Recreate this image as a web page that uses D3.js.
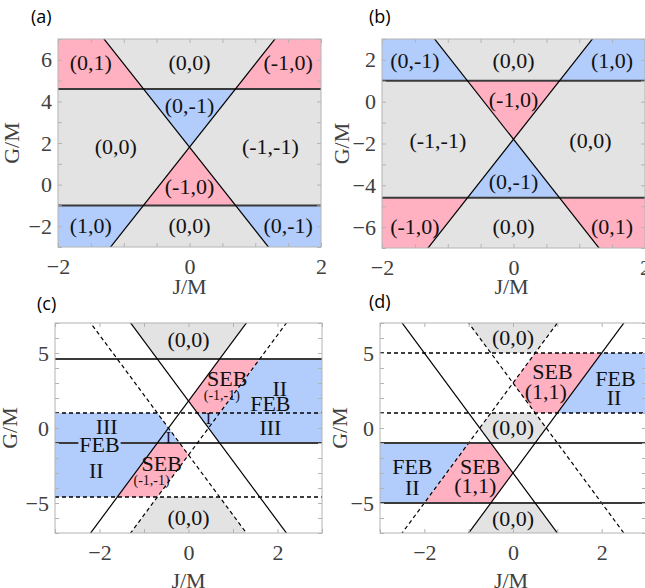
<!DOCTYPE html>
<html>
<head>
<meta charset="utf-8">
<script src="https://cdn.jsdelivr.net/npm/d3@7"></script>
<style>
  body { margin: 0; background: #fff; }
  svg { display: block; }
</style>
</head>
<body>
<div id="chart"></div>
<script>
// ---- data ----
const panelLetters = ['(a)', '(b)', '(c)', '(d)'];

const jDomainAB = [-2, 2];
const jDomainCD = [-3, 3];
const gDomainA = [-3, 7];
const gDomainB = [-7, 3];
const gDomainCD = [-7, 7];

const jTicksAB = [-2, 0, 2];
const jTicksCD = [-2, 0, 2];
const gTicksA = [-2, 0, 2, 4, 6];
const gTicksB = [-6, -4, -2, 0, 2];
const gTicksCD = [-5, 0, 5];

// phase boundaries G = g0 + k*J
const linesA = [
  {g0: 4.6, k: 0, dash: false}, {g0: -1, k: 0, dash: false},
  {g0: 1.8, k: 4, dash: false}, {g0: 1.8, k: -4, dash: false}
];
const linesB = [
  {g0: 1, k: 0, dash: false}, {g0: -4.6, k: 0, dash: false},
  {g0: -1.8, k: 4, dash: false}, {g0: -1.8, k: -4, dash: false}
];
const linesC = [
  {g0: 4.6, k: 0, dash: false}, {g0: -1, k: 0, dash: false},
  {g0: 1.8, k: 4, dash: false}, {g0: 1.8, k: -4, dash: false},
  {g0: 1, k: 0, dash: true}, {g0: -4.6, k: 0, dash: true},
  {g0: -1.8, k: 4, dash: true}, {g0: -1.8, k: -4, dash: true}
];
const linesD = [
  {g0: 5, k: 0, dash: true}, {g0: 1, k: 0, dash: true},
  {g0: 3, k: 4, dash: true}, {g0: 3, k: -4, dash: true},
  {g0: -1, k: 0, dash: false}, {g0: -5, k: 0, dash: false},
  {g0: -3, k: 4, dash: false}, {g0: -3, k: -4, dash: false}
];

// shaded regions, vertices as [J, G]
const regionsA = [
  {c: 'pink', p: [[-2, 7], [-1.3, 7], [-0.7, 4.6], [-2, 4.6]]},
  {c: 'pink', p: [[1.3, 7], [2, 7], [2, 4.6], [0.7, 4.6]]},
  {c: 'blue', p: [[-0.7, 4.6], [0.7, 4.6], [0, 1.8]]},
  {c: 'pink', p: [[0, 1.8], [0.7, -1], [-0.7, -1]]},
  {c: 'blue', p: [[-2, -1], [-0.7, -1], [-1.2, -3], [-2, -3]]},
  {c: 'blue', p: [[0.7, -1], [2, -1], [2, -3], [1.2, -3]]}
];
const regionsB = [
  {c: 'blue', p: [[-2, 3], [-1.2, 3], [-0.7, 1], [-2, 1]]},
  {c: 'blue', p: [[1.2, 3], [2, 3], [2, 1], [0.7, 1]]},
  {c: 'pink', p: [[-0.7, 1], [0.7, 1], [0, -1.8]]},
  {c: 'blue', p: [[0, -1.8], [0.7, -4.6], [-0.7, -4.6]]},
  {c: 'pink', p: [[-2, -4.6], [-0.7, -4.6], [-1.3, -7], [-2, -7]]},
  {c: 'pink', p: [[0.7, -4.6], [2, -4.6], [2, -7], [1.3, -7]]}
];
const regionsC = [
  {c: 'gray', p: [[-1.3, 7], [1.3, 7], [0.7, 4.6], [-0.7, 4.6]]},
  {c: 'gray', p: [[-0.7, -4.6], [0.7, -4.6], [1.3, -7], [-1.3, -7]]},
  {c: 'pink', p: [[0, 1.8], [0.7, 4.6], [1.6, 4.6], [0.7, 1], [0.2, 1]]},
  {c: 'blue', p: [[1.6, 4.6], [3, 4.6], [3, -1], [0.7, -1], [0.2, 1], [0.7, 1]]},
  {c: 'pink', p: [[0, -1.8], [-0.7, -4.6], [-1.6, -4.6], [-0.7, -1], [-0.2, -1]]},
  {c: 'blue', p: [[-1.6, -4.6], [-3, -4.6], [-3, 1], [-0.7, 1], [-0.2, -1], [-0.7, -1]]}
];
const regionsD = [
  {c: 'gray', p: [[-1, 7], [1, 7], [0.5, 5], [-0.5, 5]]},
  {c: 'gray', p: [[-0.5, 1], [0.5, 1], [0.75, 0], [0.5, -1], [-0.5, -1], [-0.75, 0]]},
  {c: 'gray', p: [[-0.5, -5], [0.5, -5], [1, -7], [-1, -7]]},
  {c: 'pink', p: [[0.5, 5], [2, 5], [1, 1], [0.5, 1], [0, 3]]},
  {c: 'blue', p: [[2, 5], [3, 5], [3, 1], [1, 1]]},
  {c: 'pink', p: [[-1, -1], [-0.5, -1], [0, -3], [-0.5, -5], [-2, -5]]},
  {c: 'blue', p: [[-3, -1], [-1, -1], [-2, -5], [-3, -5]]}
];

// region labels
const labelsA = [
  {t: '(0,1)', j: -1.5, g: 5.85}, {t: '(0,0)', j: 0, g: 5.85}, {t: '(-1,0)', j: 1.5, g: 5.85},
  {t: '(0,-1)', j: 0, g: 3.8},
  {t: '(0,0)', j: -1.12, g: 1.8}, {t: '(-1,-1)', j: 1.23, g: 1.8},
  {t: '(-1,0)', j: 0, g: -0.1},
  {t: '(1,0)', j: -1.5, g: -2}, {t: '(0,0)', j: 0, g: -2}, {t: '(0,-1)', j: 1.5, g: -2}
];
const labelsB = [
  {t: '(0,-1)', j: -1.5, g: 1.95}, {t: '(0,0)', j: 0, g: 1.95}, {t: '(1,0)', j: 1.5, g: 1.95},
  {t: '(-1,0)', j: 0, g: 0.1},
  {t: '(-1,-1)', j: -1.15, g: -1.85}, {t: '(0,0)', j: 1.17, g: -1.85},
  {t: '(0,-1)', j: 0, g: -3.85},
  {t: '(-1,0)', j: -1.5, g: -6}, {t: '(0,0)', j: 0, g: -6}, {t: '(0,1)', j: 1.5, g: -6}
];
const labelsC = [
  {t: '(0,0)', j: 0, g: 5.9}, {t: '(0,0)', j: 0, g: -5.95},
  {t: 'SEB', j: 0.87, g: 3.3}, {t: '(-1,-1)', j: 0.75, g: 2.15, s: 14},
  {t: 'II', j: 2.05, g: 2.65}, {t: 'FEB', j: 1.84, g: 1.6}, {t: 'III', j: 1.84, g: 0.05},
  {t: 'I', j: 0.45, g: 0.62, s: 16},
  {t: 'III', j: -1.84, g: 0.1}, {t: 'FEB', j: -2.0, g: -1.1, bg: 'blue'}, {t: 'II', j: -2.07, g: -2.85},
  {t: 'I', j: -0.45, g: -0.68, s: 16},
  {t: 'SEB', j: -0.6, g: -2.4}, {t: '(-1,-1)', j: -0.83, g: -3.5, s: 14}
];
const labelsD = [
  {t: '(0,0)', j: 0, g: 6}, {t: 'SEB', j: 0.89, g: 3.75}, {t: '(1,1)', j: 0.74, g: 2.45},
  {t: 'FEB', j: 2.31, g: 3.3}, {t: 'II', j: 2.28, g: 2.0},
  {t: '(0,0)', j: 0, g: 0.05},
  {t: 'FEB', j: -2.27, g: -2.55}, {t: 'II', j: -2.27, g: -3.95},
  {t: 'SEB', j: -0.74, g: -2.55}, {t: '(1,1)', j: -0.85, g: -3.85},
  {t: '(0,0)', j: 0, g: -6.05}
];

// ---- layout / style ----
const colors = {pink: '#ffb1c1', blue: '#b2cdfc', gray: '#e3e3e3', white: '#ffffff'};
const serif = '"Liberation Serif", "Times New Roman", serif';
const labelSize = 22;
const tickSize = 22;

const panels = [
  {letter: panelLetters[0], box: {x0: 58, x1: 321, y0: 39, y1: 247}, jd: jDomainAB, gd: gDomainA,
   jt: jTicksAB, gt: gTicksA, jm: 0.5, gm: 1, bg: 'gray', lines: linesA, regions: regionsA, labels: labelsA,
   letterPos: [31, 23], xlab: 294, ylab: 19},
  {letter: panelLetters[1], box: {x0: 382, x1: 645, y0: 39, y1: 248}, jd: jDomainAB, gd: gDomainB,
   jt: jTicksAB, gt: gTicksB, jm: 0.5, gm: 1, bg: 'gray', lines: linesB, regions: regionsB, labels: labelsB,
   letterPos: [369, 23], xlab: 294, ylab: 349},
  {letter: panelLetters[2], box: {x0: 55, x1: 322, y0: 323, y1: 533}, jd: jDomainCD, gd: gDomainCD,
   jt: jTicksCD, gt: gTicksCD, jm: 1, gm: 1, bg: 'white', lines: linesC, regions: regionsC, labels: labelsC,
   letterPos: [37, 310], xlab: 588, ylab: 17},
  {letter: panelLetters[3], box: {x0: 380, x1: 646, y0: 323, y1: 533}, jd: jDomainCD, gd: gDomainCD,
   jt: jTicksCD, gt: gTicksCD, jm: 1, gm: 1, bg: 'white', lines: linesD, regions: regionsD, labels: labelsD,
   letterPos: [369, 308], xlab: 588, ylab: 347}
];

const svg = d3.select('#chart').append('svg')
  .attr('width', 645)
  .attr('height', 588);

panels.forEach((P, idx) => {
  const b = P.box;
  const x = d3.scaleLinear().domain(P.jd).range([b.x0, b.x1]);
  const y = d3.scaleLinear().domain(P.gd).range([b.y1, b.y0]);

  const clipId = 'clip' + idx;
  svg.append('clipPath').attr('id', clipId)
    .append('rect')
    .attr('x', b.x0).attr('y', b.y0)
    .attr('width', b.x1 - b.x0).attr('height', b.y1 - b.y0);

  const g = svg.append('g');
  const plot = g.append('g').attr('clip-path', `url(#${clipId})`);

  // background
  plot.append('rect')
    .attr('x', b.x0).attr('y', b.y0)
    .attr('width', b.x1 - b.x0).attr('height', b.y1 - b.y0)
    .attr('fill', colors[P.bg]);

  // regions
  const line = d3.line().x(d => x(d[0])).y(d => y(d[1]));
  plot.selectAll('path.region')
    .data(P.regions)
    .enter().append('path')
    .attr('class', 'region')
    .attr('d', d => line(d.p) + 'Z')
    .attr('fill', d => colors[d.c]);

  // boundaries
  plot.selectAll('line.bnd')
    .data(P.lines)
    .enter().append('line')
    .attr('class', 'bnd')
    .attr('x1', x(P.jd[0])).attr('x2', x(P.jd[1]))
    .attr('y1', d => y(d.g0 + d.k * P.jd[0]))
    .attr('y2', d => y(d.g0 + d.k * P.jd[1]))
    .attr('stroke', d => (d.k === 0 && !d.dash) ? '#3a3a3a' : '#000')
    .attr('stroke-width', d => d.k === 0 ? (d.dash ? 1.4 : 2) : 1.2)
    .attr('stroke-dasharray', d => d.dash ? '4,3' : null);

  // axes (ticks inward, box on)
  const axCol = '#b4b4b4';
  const mk = (axis, tr, ticks) => {
    const a = g.append('g').attr('transform', tr)
      .call(axis.tickValues(ticks).tickSizeInner(-4).tickSizeOuter(0).tickFormat(() => ''));
    a.select('.domain').remove();
    a.selectAll('line').attr('stroke', axCol);
  };
  const jMinor = d3.range(P.jd[0], P.jd[1] + 1e-9, P.jm);
  const gMinor = d3.range(P.gd[0], P.gd[1] + 1e-9, P.gm);

  mk(d3.axisBottom(x), `translate(0,${b.y1})`, jMinor);
  mk(d3.axisTop(x), `translate(0,${b.y0})`, jMinor);
  mk(d3.axisLeft(y), `translate(${b.x0},0)`, gMinor);
  mk(d3.axisRight(y), `translate(${b.x1},0)`, gMinor);

  const xa = g.append('g').attr('transform', `translate(0,${b.y1})`)
    .call(d3.axisBottom(x).tickValues(P.jt).tickSize(0).tickPadding(11).tickFormat(d3.format('d')));
  xa.select('.domain').remove();
  xa.selectAll('text').attr('font-family', serif).attr('font-size', tickSize).attr('fill', '#404040');

  const ya = g.append('g').attr('transform', `translate(${b.x0},0)`)
    .call(d3.axisLeft(y).tickValues(P.gt).tickSize(0).tickPadding(6).tickFormat(d3.format('d')));
  ya.select('.domain').remove();
  ya.selectAll('text').attr('font-family', serif).attr('font-size', tickSize).attr('fill', '#404040');

  g.append('rect')
    .attr('x', b.x0).attr('y', b.y0)
    .attr('width', b.x1 - b.x0).attr('height', b.y1 - b.y0)
    .attr('fill', 'none').attr('stroke', axCol);

  // region labels
  P.labels.forEach(d => {
    const s = d.s || labelSize;
    const t = g.append('text')
      .attr('x', x(d.j)).attr('y', y(d.g))
      .attr('dy', '0.33em')
      .attr('text-anchor', 'middle')
      .attr('font-family', serif)
      .attr('font-size', s)
      .attr('fill', '#111')
      .text(d.t);
    if (d.bg) {
      const bb = t.node().getBBox();
      g.insert('rect', () => t.node())
        .attr('x', bb.x - 1).attr('y', bb.y + 3)
        .attr('width', bb.width + 2).attr('height', bb.height - 6)
        .attr('fill', colors[d.bg]);
    }
  });

  // axis titles
  g.append('text')
    .attr('x', (b.x0 + b.x1) / 2 + (idx % 2 === 1 ? -2 : 0)).attr('y', P.xlab)
    .attr('text-anchor', 'middle')
    .attr('font-family', serif).attr('font-size', tickSize).attr('fill', '#404040')
    .text('J/M');
  g.append('text')
    .attr('transform', `translate(${P.ylab},${(b.y0 + b.y1) / 2}) rotate(-90)`)
    .attr('text-anchor', 'middle')
    .attr('font-family', serif).attr('font-size', tickSize).attr('fill', '#404040')
    .text('G/M');

  // panel letter
  svg.append('text')
    .attr('x', P.letterPos[0]).attr('y', P.letterPos[1])
    .attr('font-family', '"Open Sans", sans-serif')
    .attr('font-size', 18)
    .attr('fill', '#000')
    .text(P.letter);
});
</script>
</body>
</html>
